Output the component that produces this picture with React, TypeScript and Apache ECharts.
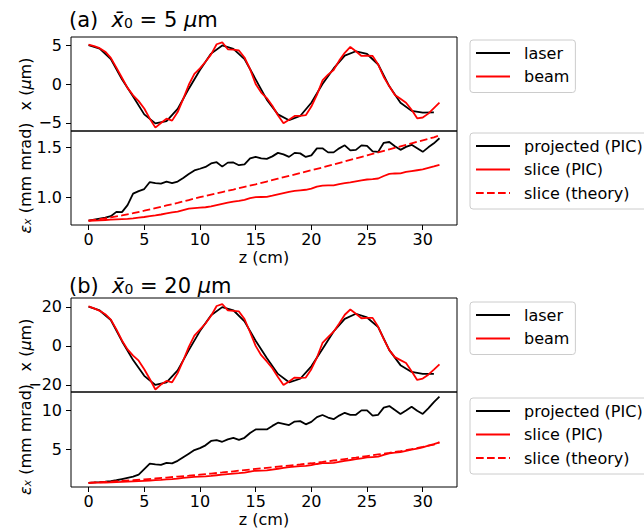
import React, { useEffect, useRef } from "react";
import * as echarts from "echarts";

const FONT = "DejaVu Sans";

// z positions (cm)
const zHalf = [0,0.5,1,1.5,2,2.5,3,3.5,4,4.5,5,5.5,6,6.5,7,7.5,8,8.5,9,9.5,10,10.5,11,11.5,12,12.5,13,13.5,14,14.5,15,15.5,16,16.5,17,17.5,18,18.5,19,19.5,20,20.5,21,21.5,22,22.5,23,23.5,24,24.5,25,25.5,26,26.5,27,27.5,28,28.5,29,29.5,30,30.5,31,31.5];
const zInt = [0,1,2,3,4,5,6,7,8,9,10,11,12,13,14,15,16,17,18,19,20,21,22,23,24,25,26,27,28,29,30,31];
const zTheory = [0,1,2,3,4,5,6,7,8,9,10,11,12,13,14,15,16,17,18,19,20,21,22,23,24,25,26,27,28,29,30,31,31.5];

// panel (a): x0 = 5 um
const laserA = [5.0,4.55,3.2,0.6,-1.6,-3.9,-5.05,-4.75,-3.2,-0.6,1.8,3.9,4.95,4.5,3.2,0.6,-2.0,-3.9,-4.65,-4.1,-2.4,0.0,2.0,3.65,4.2,3.85,2.5,-0.3,-2.4,-3.45,-3.68,-3.65];
const beamA = [5.05,4.85,4.6,4.15,3.35,2.1,0.8,-0.5,-1.45,-2.2,-3.15,-4.45,-5.6,-5.0,-4.45,-4.7,-3.6,-1.9,-0.1,1.3,2.0,2.85,3.8,5.1,5.35,4.45,4.4,4.3,3.4,1.9,0.0,-1.1,-1.8,-2.8,-4.0,-5.05,-4.6,-4.1,-4.1,-4.0,-2.9,-1.4,0.45,1.2,1.8,3.0,4.0,4.75,4.2,3.6,3.65,3.6,2.5,0.9,-0.3,-1.4,-1.9,-2.4,-3.3,-4.4,-4.3,-3.8,-3.1,-2.4];
const projA = [0.77,0.78,0.79,0.80,0.815,0.858,0.855,0.925,1.04,1.065,1.085,1.155,1.145,1.14,1.158,1.145,1.16,1.195,1.235,1.27,1.287,1.305,1.34,1.352,1.308,1.348,1.349,1.322,1.33,1.39,1.405,1.39,1.385,1.41,1.445,1.43,1.405,1.445,1.44,1.405,1.42,1.49,1.49,1.45,1.45,1.49,1.52,1.47,1.475,1.52,1.515,1.46,1.455,1.545,1.553,1.51,1.475,1.505,1.525,1.49,1.455,1.50,1.54,1.59];
const sliceA = [0.77,0.772,0.774,0.777,0.78,0.783,0.786,0.789,0.793,0.80,0.807,0.815,0.823,0.832,0.842,0.852,0.86,0.875,0.89,0.896,0.9,0.904,0.912,0.925,0.938,0.95,0.96,0.968,0.978,0.995,1.004,1.006,1.008,1.02,1.033,1.045,1.057,1.066,1.072,1.078,1.09,1.11,1.12,1.121,1.122,1.135,1.145,1.152,1.162,1.172,1.18,1.184,1.19,1.215,1.236,1.24,1.242,1.255,1.264,1.272,1.28,1.295,1.31,1.326];
const theoryA = [0.77,0.785,0.803,0.823,0.845,0.87,0.896,0.922,0.948,0.976,1.004,1.03,1.055,1.08,1.106,1.132,1.16,1.188,1.216,1.244,1.272,1.3,1.33,1.36,1.39,1.42,1.45,1.48,1.51,1.54,1.57,1.60,1.618];

// panel (b): x0 = 20 um
const laserB = [20.2,18.2,13.3,2.4,-7.3,-15.4,-20.1,-18.7,-12.6,-2.2,7.6,15.7,19.9,18.3,12.6,2.6,-6.2,-14.4,-18.7,-16.9,-10.5,-1.6,7.4,13.9,16.5,14.6,9.6,-2.2,-9.9,-13.4,-14.4,-14.4];
const beamB = [20.3,19.3,18.0,16.3,13.5,8.5,2.8,-1.8,-5.0,-7.6,-12.0,-17.0,-22.4,-19.9,-18.0,-18.7,-14.0,-7.5,-0.5,5.3,8.3,11.5,15.5,20.5,21.5,18.2,18.0,17.7,13.8,7.0,0.0,-4.8,-8.0,-11.5,-16.0,-20.1,-18.3,-16.3,-16.4,-16.3,-12.0,-6.0,1.5,4.5,7.3,11.5,16.0,18.7,16.5,14.2,14.4,14.4,9.8,3.5,-2.2,-5.8,-7.3,-8.8,-13.0,-17.5,-16.8,-14.8,-12.2,-9.5];
const projB = [0.83,0.87,0.92,0.98,1.05,1.15,1.3,1.45,1.6,1.85,2.55,3.25,3.15,3.08,3.35,3.28,3.6,4.05,4.5,4.95,5.2,5.55,6.1,6.2,6.0,6.3,6.5,6.25,6.5,7.1,7.55,7.55,7.55,8.0,8.4,8.25,8.1,8.55,8.6,8.2,8.5,9.1,9.37,9.05,8.85,9.3,9.65,9.4,9.4,9.95,9.95,9.3,9.4,10.3,10.5,10.0,9.5,9.95,10.42,9.9,9.5,10.2,11.0,11.68];
const sliceB = [0.83,0.84,0.85,0.87,0.89,0.92,0.95,0.98,1.01,1.04,1.08,1.12,1.16,1.2,1.25,1.3,1.36,1.44,1.52,1.57,1.6,1.63,1.7,1.78,1.86,1.93,1.99,2.05,2.12,2.25,2.35,2.37,2.4,2.5,2.6,2.7,2.8,2.87,2.92,2.97,3.05,3.2,3.3,3.32,3.35,3.48,3.6,3.7,3.8,3.92,4.02,4.07,4.12,4.35,4.55,4.62,4.7,4.85,5.0,5.15,5.3,5.5,5.7,5.92];
const theoryB = [0.83,0.9,0.98,1.06,1.15,1.25,1.37,1.49,1.61,1.73,1.86,1.99,2.13,2.28,2.43,2.58,2.72,2.86,3.0,3.14,3.29,3.46,3.64,3.82,4.0,4.2,4.4,4.6,4.82,5.06,5.35,5.65,5.93];

// tick labels
const xTicks = [0, 5, 10, 15, 20, 25, 30];
const yTicksA1 = [-5, 0, 5];
const yTicksA2 = [1.0, 1.5];
const yTicksB1 = [-20, 0, 20];
const yTicksB2 = [5, 10];

const legendTop = ["laser", "beam"];
const legendBottom = ["projected (PIC)", "slice (PIC)", "slice (theory)"];

const pairs = (xs: number[], ys: number[]) => xs.map((x, i) => [x, ys[i]]);
const minus = (v: number) => (v < 0 ? "\u2212" + Math.abs(v) : String(v));

export default function App() {
  const ref = useRef<HTMLDivElement>(null);
  useEffect(() => {
    if (!ref.current) return;
    const chart = echarts.init(ref.current, undefined, { renderer: "svg" });

    const grids = [
      { left: 71, top: 37, width: 386, height: 94 },
      { left: 71, top: 131, width: 386, height: 94 },
      { left: 71, top: 298, width: 386, height: 94 },
      { left: 71, top: 392, width: 386, height: 95 },
    ].map((g) => ({ ...g, show: true, borderColor: "#000", borderWidth: 1, backgroundColor: "transparent" }));

    const xAxis = [0, 1, 2, 3].map((i) => {
      const bottom = i === 1 || i === 3;
      return {
        type: "value",
        gridIndex: i,
        position: "bottom",
        min: -1.575,
        max: 33.075,
        axisLine: { show: false, onZero: false },
        splitLine: { show: false },
        axisTick: { show: bottom, length: 5, lineStyle: { color: "#000", width: 1 }, customValues: xTicks },
        axisLabel: { show: bottom, customValues: xTicks, fontSize: 16, color: "#000", fontFamily: FONT, margin: 6 },
        name: bottom ? "z (cm)" : "",
        nameLocation: "middle",
        nameGap: 24,
        nameMoveOverlap: false,
        nameTextStyle: { fontSize: 16, color: "#000", fontFamily: FONT },
      };
    });

    const yCfg = [
      { min: -6.03, max: 6.03, ticks: yTicksA1, fmt: minus, top: true },
      { min: 0.7275, max: 1.6625, ticks: yTicksA2, fmt: (v: number) => v.toFixed(1), top: false },
      { min: -23.7, max: 24.6, ticks: yTicksB1, fmt: minus, top: true },
      { min: 0.3, max: 12.27, ticks: yTicksB2, fmt: (v: number) => String(v), top: false },
    ];
    const nameRich = {
      i: { fontStyle: "italic", fontSize: 16, fontFamily: FONT, color: "#000" },
      s: { fontStyle: "italic", fontSize: 11, fontFamily: FONT, color: "#000", verticalAlign: "bottom" },
      n: { fontSize: 16, fontFamily: FONT, color: "#000" },
    };
    const yAxis = yCfg.map((c, i) => ({
      type: "value",
      gridIndex: i,
      position: "left",
      min: c.min,
      max: c.max,
      axisLine: { show: false, onZero: false },
      splitLine: { show: false },
      axisTick: { show: true, length: 5, lineStyle: { color: "#000", width: 1 }, customValues: c.ticks },
      axisLabel: { customValues: c.ticks, formatter: c.fmt, fontSize: 16, color: "#000", fontFamily: FONT, margin: 9 },
      name: c.top ? "{n|x (}{i|\u03bc}{n|m)}" : "{i|\u03b5}{s|x}{n| (mm mrad)}",
      nameLocation: "middle",
      nameRotate: 90,
      nameGap: 38,
      nameMoveOverlap: false,
      nameTextStyle: { fontSize: 16, color: "#000", fontFamily: FONT, rich: nameRich },
    }));

    const line = (name: string, color: string, xi: number, data: number[][], dashed = false) => ({
      type: "line",
      name,
      xAxisIndex: xi,
      yAxisIndex: xi,
      data,
      symbol: "none",
      showSymbol: false,
      clip: true,
      lineStyle: { color, width: 1.8, type: dashed ? [7.7, 3.3] : "solid" },
      itemStyle: { color },
    });

    const series = [
      line("laser", "#000000", 0, pairs(zInt, laserA)),
      line("beam", "#ff0000", 0, pairs(zHalf, beamA)),
      line("projected (PIC)", "#000000", 1, pairs(zHalf, projA)),
      line("slice (PIC)", "#ff0000", 1, pairs(zHalf, sliceA)),
      line("slice (theory)", "#ff0000", 1, pairs(zTheory, theoryA), true),
      line("laser", "#000000", 2, pairs(zInt, laserB)),
      line("beam", "#ff0000", 2, pairs(zHalf, beamB)),
      line("projected (PIC)", "#000000", 3, pairs(zHalf, projB)),
      line("slice (PIC)", "#ff0000", 3, pairs(zHalf, sliceB)),
      line("slice (theory)", "#ff0000", 3, pairs(zTheory, theoryB), true),
    ];

    const legendBase = {
      orient: "vertical",
      left: 470,
      itemWidth: 34,
      itemHeight: 14,
      itemGap: 7.5,
      padding: [5, 6, 8, 5],
      backgroundColor: "rgba(255,255,255,0.8)",
      borderColor: "#cccccc",
      borderWidth: 1,
      borderRadius: 3,
      selectedMode: false,
      itemStyle: { color: "rgba(0,0,0,0)", borderWidth: 0, opacity: 0 },
      textStyle: { fontSize: 16, color: "#000", fontFamily: FONT, padding: [0, 0, 0, 9] },
    };
    const legend = [
      { ...legendBase, top: 40, data: legendTop },
      { ...legendBase, top: 133, data: legendBottom },
      { ...legendBase, top: 302, data: legendTop },
      { ...legendBase, top: 398, data: legendBottom },
    ];

    const titleRich = {
      n: { fontSize: 21, fontFamily: FONT, color: "#000" },
      i: { fontSize: 21, fontFamily: FONT, color: "#000", fontStyle: "italic" },
      s: { fontSize: 14, fontFamily: FONT, color: "#000", verticalAlign: "bottom" },
    };
    const title = [
      { left: 64, top: 4, text: "{n|(a)}  {i|x\u0304}{s|0}{n| = 5 }{i|\u03bc}{n|m}", textStyle: { fontSize: 21, fontWeight: "normal", fontFamily: FONT, color: "#000", rich: titleRich } },
      { left: 64, top: 270, text: "{n|(b)}  {i|x\u0304}{s|0}{n| = 20 }{i|\u03bc}{n|m}", textStyle: { fontSize: 21, fontWeight: "normal", fontFamily: FONT, color: "#000", rich: titleRich } },
    ];

    chart.setOption({
      animation: false,
      textStyle: { fontFamily: FONT },
      title,
      legend,
      grid: grids,
      xAxis,
      yAxis,
      series,
    } as any);

    return () => chart.dispose();
  }, []);

  return <div ref={ref} style={{ position: "fixed", left: 0, top: 0, width: 644, height: 531, background: "#fff" }} />;
}
